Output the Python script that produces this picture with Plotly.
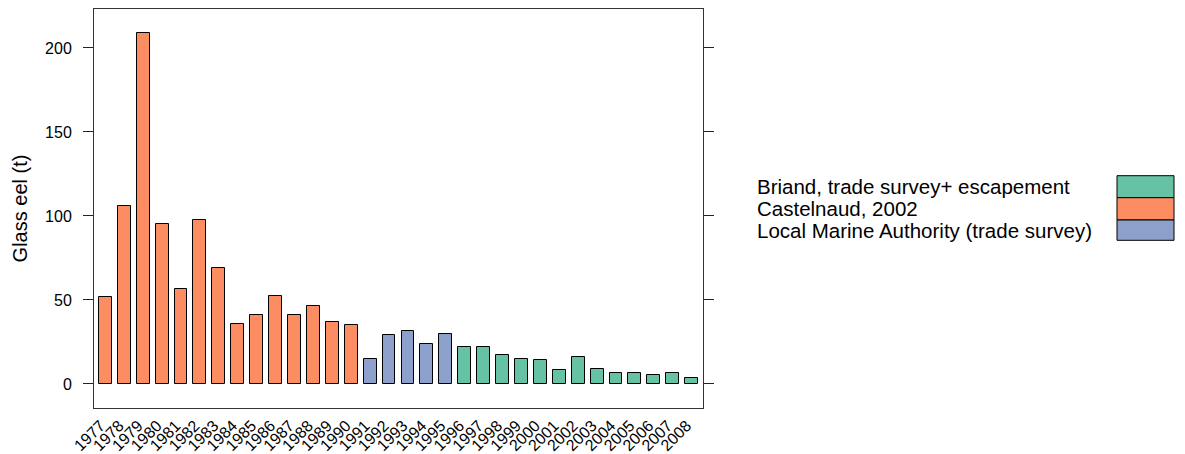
import plotly.graph_objects as go

years = [str(y) for y in range(1977, 2009)]
values = [51.5, 105.7, 209.1, 95.1, 56.7, 97.7, 69.0, 36.0, 41.0, 52.1, 41.0, 46.6,
          36.6, 35.4, 14.7, 29.3, 31.3, 23.7, 29.5, 22.3, 22.3, 17.3, 14.9, 14.0,
          8.2, 15.8, 8.8, 6.8, 6.8, 5.6, 6.8, 3.8]
src_codes = ["C"] * 14 + ["L"] * 5 + ["B"] * 13
legend_keys = ["B", "C", "L"]
legend_labels = ["Briand, trade survey+ escapement", "Castelnaud, 2002",
                 "Local Marine Authority (trade survey)"]
legend_colors = ["#66C2A5", "#FC8D62", "#8DA0CB"]
color_of = dict(zip(legend_keys, legend_colors))

FONT = "Arial, Liberation Sans, sans-serif"

# the page body has an 8px margin, so figure coords = page coords - 8
OFF = 8
FW, FH = 1185 - OFF, 454 - OFF

fig = go.Figure()
fig.add_trace(go.Bar(
    x=years, y=values,
    marker=dict(color=[color_of[s] for s in src_codes],
                line=dict(color="black", width=1)),
    width=0.68, showlegend=False,
))

# plot area in page pixels: x 94..703, y 9..408
L, R, T, B = 94 - OFF, 703 - OFF, 9 - OFF, 408 - OFF
W, H = R - L, B - T
def px(x):
    return (x - OFF - L) / W
def py(y):
    return (B - (y - OFF)) / H

fig.update_layout(
    width=FW, height=FH,
    margin=dict(l=L, r=FW - R, t=T, b=FH - B, autoexpand=False),
    paper_bgcolor="white", plot_bgcolor="white",
    font=dict(family=FONT, color="black", size=16),
    xaxis=dict(
        type="category", range=[-0.6, 31.6],
        tickmode="array", tickvals=years, ticktext=years,
        showline=True, mirror=True, linecolor="#333", linewidth=1,
        ticks="", tickangle=-45, tickfont=dict(size=16),
        ticklabelshift=-5, ticklabelstandoff=1,
        showgrid=False, zeroline=False,
    ),
    yaxis=dict(
        range=[-14.3, 223.2],
        tickvals=[0, 50, 100, 150, 200],
        showline=True, mirror="ticks", linecolor="#333", linewidth=1,
        ticks="outside", ticklen=10, tickcolor="#222", tickwidth=1,
        ticklabelstandoff=8, tickfont=dict(size=16),
        showgrid=False, zeroline=False,
        title=dict(text="Glass eel (t)", font=dict(size=20), standoff=12),
    ),
    bargap=0,
)

# legend drawn as text + stacked colour boxes (page pixel positions)
box_edges = [175.7, 197.7, 220.0, 240.3]
for i, (lab, col) in enumerate(zip(legend_labels, legend_colors)):
    y0, y1 = box_edges[i], box_edges[i + 1]
    fig.add_shape(type="rect", xref="paper", yref="paper",
                  x0=px(1117), x1=px(1174), y0=py(y1), y1=py(y0),
                  fillcolor=col, line=dict(color="black", width=1))
    fig.add_annotation(xref="paper", yref="paper", x=px(755), y=py((y0 + y1) / 2),
                       text=lab, showarrow=False, xanchor="left", yanchor="middle",
                       font=dict(size=20.5, family=FONT, color="black"))

fig.write_html("out.html")
